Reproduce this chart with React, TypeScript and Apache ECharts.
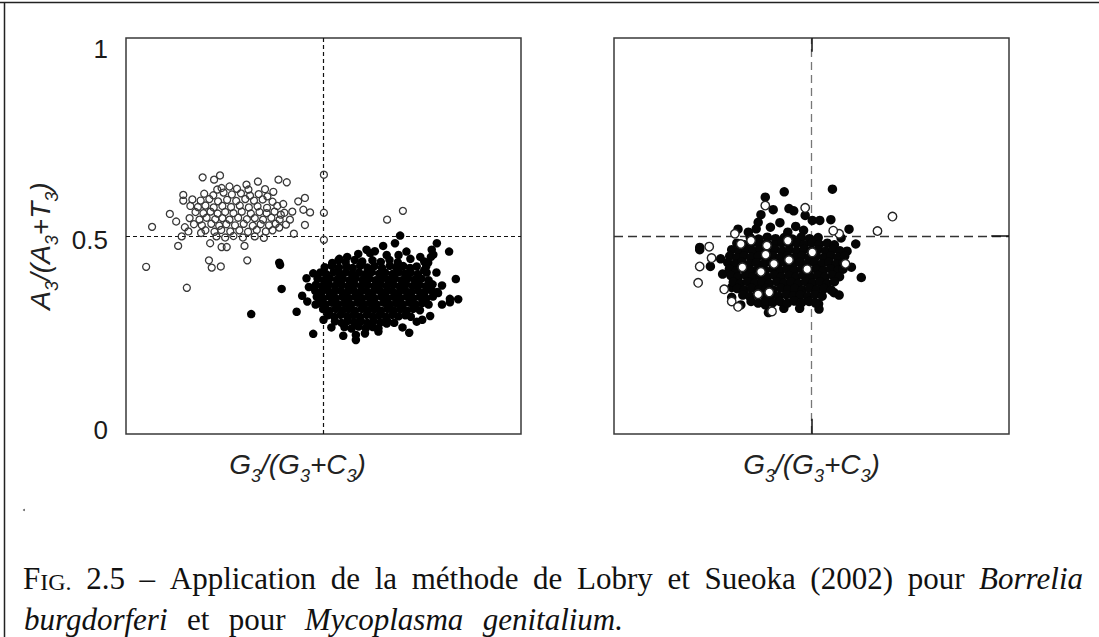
import React, { useEffect, useRef } from "react";
import * as echarts from "echarts";

// ---- Left panel (Borrelia burgdorferi) ----
const borreliaOpen: number[][] = [
  [0.051,0.429],[0.154,0.374],[0.501,0.671],[0.501,0.571],[0.501,0.500],[0.661,0.553],[0.701,0.576],[0.066,0.534],
  [0.132,0.484],[0.210,0.446],[0.217,0.427],[0.240,0.430],[0.307,0.446],[0.213,0.491],[0.242,0.481],[0.255,0.481],
  [0.300,0.484],[0.190,0.518],[0.425,0.516],[0.453,0.539],[0.453,0.610],[0.436,0.601],[0.449,0.579],[0.466,0.572],
  [0.421,0.574],[0.415,0.553],[0.386,0.658],[0.407,0.651],[0.373,0.626],[0.334,0.653],[0.305,0.645],[0.310,0.632],
  [0.262,0.640],[0.231,0.632],[0.194,0.664],[0.223,0.658],[0.238,0.669],[0.111,0.568],[0.127,0.548],[0.149,0.533],
  [0.158,0.522],[0.141,0.509],[0.145,0.618],[0.145,0.603],[0.398,0.594],[0.392,0.566],[0.405,0.540],[0.388,0.532],
  [0.198,0.621],[0.221,0.617],[0.247,0.624],[0.268,0.619],[0.291,0.622],[0.314,0.616],[0.336,0.620],[0.358,0.614],
  [0.242,0.636],[0.281,0.634],[0.352,0.633],
  [0.168,0.606],[0.189,0.603],[0.211,0.607],[0.233,0.601],[0.256,0.605],[0.279,0.602],[0.302,0.607],[0.324,0.603],[0.346,0.606],[0.371,0.600],
  [0.163,0.589],[0.182,0.586],[0.201,0.590],[0.222,0.585],[0.244,0.589],[0.266,0.586],[0.288,0.590],[0.311,0.585],[0.333,0.588],[0.357,0.584],[0.383,0.589],
  [0.176,0.573],[0.196,0.570],[0.214,0.574],[0.232,0.569],[0.251,0.573],[0.272,0.570],[0.293,0.574],[0.316,0.569],[0.338,0.573],[0.356,0.570],[0.376,0.574],[0.401,0.571],
  [0.161,0.557],[0.186,0.553],[0.204,0.558],[0.226,0.554],[0.244,0.557],[0.262,0.553],[0.284,0.558],[0.306,0.554],[0.326,0.557],[0.347,0.553],[0.368,0.558],[0.389,0.553],
  [0.172,0.541],[0.192,0.538],[0.216,0.542],[0.236,0.537],[0.254,0.541],[0.276,0.538],[0.298,0.542],[0.321,0.537],[0.341,0.541],[0.362,0.538],[0.379,0.542],
  [0.201,0.525],[0.224,0.521],[0.241,0.526],[0.264,0.522],[0.287,0.525],[0.309,0.521],[0.331,0.526],[0.354,0.522],[0.371,0.525],
  [0.229,0.509],[0.251,0.506],[0.272,0.510],[0.296,0.506],[0.326,0.509],[0.349,0.505],
];

const borreliaFilled: number[][] = [
  [0.390,0.434],[0.388,0.440],[0.394,0.371],[0.474,0.253],[0.432,0.311],[0.446,0.353],[0.457,0.399],[0.474,0.412],
  [0.463,0.376],[0.459,0.338],[0.550,0.248],[0.582,0.250],[0.605,0.254],[0.639,0.268],[0.639,0.259],[0.717,0.256],
  [0.736,0.285],[0.818,0.469],[0.835,0.397],[0.841,0.344],[0.820,0.345],[0.820,0.336],[0.787,0.491],[0.774,0.474],
  [0.778,0.461],[0.694,0.511],[0.681,0.491],[0.651,0.484],[0.609,0.474],[0.618,0.465],[0.588,0.463],[0.522,0.439],
  [0.710,0.469],[0.755,0.443],[0.736,0.430],[0.761,0.414],[0.786,0.414],[0.317,0.305],[0.582,0.237],
  [0.800,0.380],[0.790,0.360],[0.800,0.330],[0.770,0.300],[0.750,0.290],[0.700,0.270],[0.660,0.280],[0.520,0.270],
  [0.500,0.290],[0.480,0.330],[0.720,0.450],[0.690,0.460],[0.660,0.460],[0.560,0.455],[0.540,0.450],[0.630,0.470],
  [0.745,0.455],[0.760,0.430],[0.755,0.420],[0.765,0.440],[0.772,0.455],
  [0.538,0.446],[0.556,0.442],[0.579,0.447],[0.598,0.443],[0.624,0.446],[0.645,0.442],[0.667,0.447],[0.688,0.441],
  [0.503,0.428],[0.521,0.432],[0.539,0.427],[0.558,0.431],[0.574,0.426],[0.593,0.432],[0.611,0.427],[0.629,0.431],[0.648,0.426],[0.668,0.432],[0.684,0.427],[0.702,0.431],[0.719,0.426],
  [0.492,0.414],[0.507,0.410],[0.526,0.415],[0.541,0.411],[0.557,0.415],[0.572,0.410],[0.590,0.414],[0.606,0.410],[0.622,0.415],[0.641,0.411],[0.656,0.414],[0.674,0.410],[0.691,0.415],[0.706,0.411],[0.721,0.414],[0.739,0.410],
  [0.485,0.398],[0.501,0.394],[0.516,0.399],[0.534,0.395],[0.549,0.398],[0.566,0.394],[0.581,0.399],[0.599,0.395],[0.616,0.398],[0.632,0.394],[0.649,0.399],[0.664,0.395],[0.681,0.398],[0.698,0.394],[0.714,0.399],[0.731,0.395],[0.748,0.398],[0.766,0.394],
  [0.481,0.382],[0.497,0.378],[0.513,0.383],[0.529,0.379],[0.546,0.382],[0.562,0.378],[0.578,0.383],[0.595,0.379],[0.611,0.382],[0.628,0.378],[0.644,0.383],[0.660,0.379],[0.677,0.382],[0.693,0.378],[0.709,0.383],[0.726,0.379],[0.742,0.382],[0.759,0.378],[0.776,0.383],
  [0.479,0.366],[0.495,0.362],[0.511,0.367],[0.527,0.363],[0.544,0.366],[0.560,0.362],[0.576,0.367],[0.593,0.363],[0.609,0.366],[0.625,0.362],[0.642,0.367],[0.658,0.363],[0.674,0.366],[0.691,0.362],[0.707,0.367],[0.723,0.363],[0.740,0.366],[0.756,0.362],[0.773,0.367],[0.788,0.363],
  [0.483,0.350],[0.499,0.346],[0.515,0.351],[0.531,0.347],[0.548,0.350],[0.564,0.346],[0.580,0.351],[0.597,0.347],[0.613,0.350],[0.629,0.346],[0.646,0.351],[0.662,0.347],[0.678,0.350],[0.695,0.346],[0.711,0.351],[0.727,0.347],[0.744,0.350],[0.760,0.346],[0.777,0.351],
  [0.489,0.334],[0.505,0.330],[0.521,0.335],[0.537,0.331],[0.554,0.334],[0.570,0.330],[0.586,0.335],[0.603,0.331],[0.619,0.334],[0.635,0.330],[0.652,0.335],[0.668,0.331],[0.684,0.334],[0.701,0.330],[0.717,0.335],[0.733,0.331],[0.750,0.334],[0.766,0.330],
  [0.499,0.318],[0.515,0.314],[0.531,0.319],[0.548,0.315],[0.564,0.318],[0.580,0.314],[0.597,0.319],[0.613,0.315],[0.629,0.318],[0.646,0.314],[0.662,0.319],[0.678,0.315],[0.695,0.318],[0.711,0.314],[0.727,0.319],[0.744,0.315],
  [0.511,0.302],[0.527,0.298],[0.543,0.303],[0.560,0.299],[0.576,0.302],[0.592,0.298],[0.609,0.303],[0.625,0.299],[0.641,0.302],[0.658,0.298],[0.674,0.303],[0.690,0.299],[0.707,0.302],[0.721,0.298],
  [0.529,0.286],[0.546,0.282],[0.562,0.287],[0.578,0.283],[0.595,0.286],[0.611,0.282],[0.627,0.287],[0.644,0.283],[0.662,0.286],[0.679,0.282],
  [0.553,0.271],[0.571,0.267],[0.589,0.272],[0.607,0.268],[0.625,0.271],
];

// ---- Right panel (Mycoplasma genitalium) ----
const mycoplasmaFilled: number[][] = [
  [0.553,0.633],[0.431,0.626],[0.383,0.612],[0.403,0.579],[0.443,0.582],[0.455,0.576],[0.372,0.566],[0.484,0.564],
  [0.365,0.546],[0.360,0.529],[0.396,0.533],[0.502,0.551],[0.521,0.551],[0.549,0.553],[0.595,0.528],[0.314,0.528],
  [0.612,0.489],[0.217,0.480],[0.217,0.474],[0.244,0.430],[0.601,0.428],[0.626,0.401],[0.557,0.361],[0.518,0.332],
  [0.519,0.318],[0.383,0.329],[0.391,0.309],[0.321,0.329],[0.298,0.349],[0.294,0.419],[0.298,0.375],
  [0.420,0.545],[0.460,0.535],[0.480,0.525],[0.340,0.520],[0.440,0.520],[0.575,0.505],[0.590,0.470],[0.270,0.450],
  [0.275,0.410],[0.570,0.355],[0.430,0.320],[0.470,0.320],
  [0.345,0.506],[0.366,0.502],[0.388,0.507],[0.409,0.503],[0.431,0.506],[0.452,0.502],[0.474,0.507],[0.495,0.503],[0.517,0.506],
  [0.311,0.491],[0.330,0.487],[0.349,0.492],[0.368,0.488],[0.387,0.491],[0.406,0.487],[0.425,0.492],[0.444,0.488],[0.463,0.491],[0.482,0.487],[0.501,0.492],[0.520,0.488],[0.540,0.491],[0.558,0.487],
  [0.298,0.474],[0.316,0.470],[0.334,0.475],[0.352,0.471],[0.371,0.474],[0.389,0.470],[0.407,0.475],[0.426,0.471],[0.444,0.474],[0.462,0.470],[0.481,0.475],[0.499,0.471],[0.517,0.474],[0.536,0.470],[0.554,0.475],[0.572,0.471],
  [0.293,0.457],[0.311,0.453],[0.329,0.458],[0.347,0.454],[0.366,0.457],[0.384,0.453],[0.402,0.458],[0.421,0.454],[0.439,0.457],[0.457,0.453],[0.476,0.458],[0.494,0.454],[0.512,0.457],[0.531,0.453],[0.549,0.458],[0.567,0.454],[0.584,0.457],
  [0.288,0.440],[0.306,0.436],[0.324,0.441],[0.343,0.437],[0.361,0.440],[0.379,0.436],[0.398,0.441],[0.416,0.437],[0.434,0.440],[0.453,0.436],[0.471,0.441],[0.489,0.437],[0.508,0.440],[0.526,0.436],[0.544,0.441],[0.563,0.437],[0.581,0.440],
  [0.292,0.423],[0.310,0.419],[0.328,0.424],[0.347,0.420],[0.365,0.423],[0.383,0.419],[0.402,0.424],[0.420,0.420],[0.438,0.423],[0.457,0.419],[0.475,0.424],[0.493,0.420],[0.512,0.423],[0.530,0.419],[0.548,0.424],[0.567,0.420],[0.580,0.423],
  [0.296,0.406],[0.314,0.402],[0.333,0.407],[0.351,0.403],[0.369,0.406],[0.388,0.402],[0.406,0.407],[0.424,0.403],[0.443,0.406],[0.461,0.402],[0.479,0.407],[0.498,0.403],[0.516,0.406],[0.534,0.402],[0.553,0.407],[0.571,0.403],
  [0.302,0.389],[0.320,0.385],[0.338,0.390],[0.357,0.386],[0.375,0.389],[0.393,0.385],[0.412,0.390],[0.430,0.386],[0.448,0.389],[0.467,0.385],[0.485,0.390],[0.503,0.386],[0.522,0.389],[0.540,0.385],[0.558,0.390],
  [0.312,0.372],[0.330,0.368],[0.348,0.373],[0.367,0.369],[0.385,0.372],[0.403,0.368],[0.422,0.373],[0.440,0.369],[0.458,0.372],[0.477,0.368],[0.495,0.373],[0.513,0.369],[0.532,0.372],[0.550,0.368],
  [0.326,0.355],[0.344,0.351],[0.362,0.356],[0.381,0.352],[0.399,0.355],[0.417,0.351],[0.436,0.356],[0.454,0.352],[0.472,0.355],[0.491,0.351],[0.509,0.356],[0.527,0.352],
  [0.347,0.338],[0.365,0.334],[0.384,0.339],[0.402,0.335],[0.420,0.338],[0.439,0.334],[0.457,0.339],[0.475,0.335],[0.494,0.338],[0.510,0.334],
];

const mycoplasmaOpen: number[][] = [
  [0.705,0.561],[0.667,0.523],[0.484,0.584],[0.383,0.590],[0.241,0.482],[0.247,0.452],[0.217,0.430],[0.213,0.387],
  [0.279,0.370],[0.298,0.338],[0.314,0.324],[0.400,0.312],[0.306,0.516],[0.586,0.437],[0.570,0.516],
  [0.387,0.485],[0.384,0.461],[0.372,0.416],[0.443,0.447],[0.489,0.423],[0.502,0.467],
  [0.347,0.498],[0.393,0.362],[0.321,0.489],[0.440,0.498],[0.555,0.524],
  [0.325,0.428],[0.365,0.357],[0.405,0.437],
];

const xReference = 0.5;
const yReference = 0.51;
const yTickValues = [0, 0.5, 1];
const xAxisTitle = "{i|G}{s|3}{i|/(G}{s|3}{i|+C}{s|3}{i|)}";
const yAxisTitle = "{i|A}{s|3}{i|/(A}{s|3}{i|+T}{s|3}{i|)}";

const captionLine1 = [
  { text: "FIG.", sc: true }, { text: "2.5" }, { text: "–" }, { text: "Application" }, { text: "de" },
  { text: "la" }, { text: "méthode" }, { text: "de" }, { text: "Lobry" }, { text: "et" }, { text: "Sueoka" },
  { text: "(2002)" }, { text: "pour" }, { text: "Borrelia", it: true },
];
const captionLine2 = [
  { text: "burgdorferi", it: true }, { text: "et" }, { text: "pour" },
  { text: "Mycoplasma", it: true }, { text: "genitalium.", it: true },
];

const SANS = "'Liberation Sans', Arial, sans-serif";
const SERIF = "'Liberation Serif', 'Times New Roman', serif";
const CAP_SIZE = 31;
const SC_SIZE = 24;

const titleRich = {
  i: { fontSize: 28, fontStyle: "italic", fontFamily: SANS, color: "#222", lineHeight: 44 },
  s: { fontSize: 18, fontStyle: "italic", fontFamily: SANS, color: "#222", lineHeight: 18, padding: [24, 0, 0, 0] },
};

function layoutLine(words: any[], x0: number, x1: number, y: number, justify: boolean) {
  const ctx = document.createElement("canvas").getContext("2d")!;
  const w = words.map((wd) => {
    if (wd.sc) {
      ctx.font = `${CAP_SIZE}px ${SERIF}`;
      const a = ctx.measureText(wd.text[0]).width;
      ctx.font = `${SC_SIZE}px ${SERIF}`;
      return a + ctx.measureText(wd.text.slice(1)).width;
    }
    ctx.font = `${wd.it ? "italic " : ""}${CAP_SIZE}px ${SERIF}`;
    return ctx.measureText(wd.text).width;
  });
  const total = w.reduce((a, b) => a + b, 0);
  const gap = justify ? (x1 - x0 - total) / (words.length - 1) : CAP_SIZE * 0.33;
  let x = x0;
  return words.map((wd, k) => {
    const el: any = {
      type: "text",
      x,
      y,
      style: wd.sc
        ? {
            text: `{a|${wd.text[0]}}{b|${wd.text.slice(1)}}`,
            rich: {
              a: { fontSize: CAP_SIZE, fontFamily: SERIF, fill: "#111", verticalAlign: "bottom" },
              b: { fontSize: SC_SIZE, fontFamily: SERIF, fill: "#111", verticalAlign: "bottom" },
            },
            textAlign: "left",
            textVerticalAlign: "middle",
          }
        : {
            text: wd.text,
            fontSize: CAP_SIZE,
            fontFamily: SERIF,
            fontStyle: wd.it ? "italic" : "normal",
            fill: "#111",
            textAlign: "left",
            textVerticalAlign: "middle",
          },
    };
    x += w[k] + gap;
    return el;
  });
}

function axisPair(grid: number, showY: boolean, xPad: number[]) {
  const x = {
    gridIndex: grid, type: "value", min: 0, max: 1,
    axisLine: { show: false }, axisTick: { show: false }, axisLabel: { show: false }, splitLine: { show: false },
    name: xAxisTitle, nameLocation: "middle", nameGap: 8,
    nameTextStyle: { rich: titleRich, padding: xPad },
  };
  const y: any = {
    gridIndex: grid, type: "value", min: -0.01, max: 1.03,
    axisLine: { show: false }, axisTick: { show: false }, splitLine: { show: false },
    axisLabel: showY
      ? { show: true, customValues: yTickValues, fontSize: 26, fontFamily: SANS, color: "#1a1a1a", margin: 18 }
      : { show: false },
  };
  if (showY) {
    y.name = yAxisTitle;
    y.nameLocation = "middle";
    y.nameGap = 64;
    y.nameTextStyle = { rich: titleRich, padding: [0, 20, 0, 0] };
  }
  return [x, y];
}

export default function App() {
  const ref = useRef<HTMLDivElement>(null);
  useEffect(() => {
    if (!ref.current) return;
    const chart = echarts.init(ref.current, undefined, { renderer: "svg" });
    const [x0, y0] = axisPair(0, true, [0, 52, 0, 0]);
    const [x1, y1] = axisPair(1, false, [0, 0, 0, 0]);
    const leftDash = { type: [4, 3], color: "#111", width: 1.2 };
    const option: any = {
      animation: false,
      backgroundColor: "#ffffff",
      grid: [
        { left: 126, top: 38, width: 395, height: 396, show: true, borderColor: "#3a3a3a", borderWidth: 1.5, backgroundColor: "transparent" },
        { left: 614, top: 38, width: 395, height: 396, show: true, borderColor: "#3a3a3a", borderWidth: 1.5, backgroundColor: "transparent" },
      ],
      xAxis: [x0, x1],
      yAxis: [y0, y1],
      series: [
        {
          name: "Borrelia burgdorferi (○)", type: "scatter", xAxisIndex: 0, yAxisIndex: 0, z: 10,
          data: borreliaOpen, symbol: "circle", symbolSize: 7,
          itemStyle: { color: "rgba(255,255,255,0)", borderColor: "#383838", borderWidth: 1.3, opacity: 1 },
          markLine: {
            z: 1, silent: true, symbol: ["none", "none"], label: { show: false }, animation: false,
            lineStyle: leftDash,
            data: [{ xAxis: xReference }, { yAxis: yReference }],
          },
        },
        {
          name: "Borrelia burgdorferi (●)", type: "scatter", xAxisIndex: 0, yAxisIndex: 0, z: 11,
          data: borreliaFilled, symbol: "circle", symbolSize: 8.5,
          itemStyle: { color: "#000", opacity: 1 },
        },
        {
          name: "Mycoplasma genitalium (●)", type: "scatter", xAxisIndex: 1, yAxisIndex: 1, z: 10,
          data: mycoplasmaFilled, symbol: "circle", symbolSize: 9.5,
          itemStyle: { color: "#050505", opacity: 1 },
          markLine: {
            z: 1, silent: true, symbol: ["none", "none"], label: { show: false }, animation: false,
            data: [
              { xAxis: xReference, lineStyle: { type: [8, 5], color: "#777", width: 1.3 } },
              { yAxis: yReference, lineStyle: { type: [9, 5], color: "#333", width: 1.3 } },
              [{ coord: [xReference, 1.03], lineStyle: { type: "solid", color: "#111", width: 1.5 } }, { coord: [xReference, 0.994] }],
              [{ coord: [xReference, -0.01], lineStyle: { type: "solid", color: "#111", width: 1.5 } }, { coord: [xReference, 0.03] }],
              [{ coord: [0.955, yReference], lineStyle: { type: "solid", color: "#111", width: 1.5 } }, { coord: [1, yReference] }],
            ],
          },
        },
        {
          name: "Mycoplasma genitalium (○)", type: "scatter", xAxisIndex: 1, yAxisIndex: 1, z: 11,
          data: mycoplasmaOpen, symbol: "circle", symbolSize: 8.5,
          itemStyle: { color: "#fff", borderColor: "#222", borderWidth: 1.4, opacity: 1 },
        },
      ],
      graphic: [
        { type: "line", shape: { x1: 0, y1: 2.5, x2: 1099, y2: 2.5 }, style: { stroke: "#222", lineWidth: 1.5 } },
        { type: "line", shape: { x1: 4.5, y1: 2, x2: 4.5, y2: 637 }, style: { stroke: "#222", lineWidth: 1.5 } },
        { type: "circle", shape: { cx: 24, cy: 510, r: 1 }, style: { fill: "#666" } },
        ...layoutLine(captionLine1, 23, 1083, 578, true),
        ...layoutLine(captionLine2, 24, 623, 619, true),
      ],
    };
    chart.setOption(option);
    return () => chart.dispose();
  }, []);
  return <div ref={ref} style={{ position: "fixed", left: 0, top: 0, width: 1099, height: 637, background: "#fff" }} />;
}
